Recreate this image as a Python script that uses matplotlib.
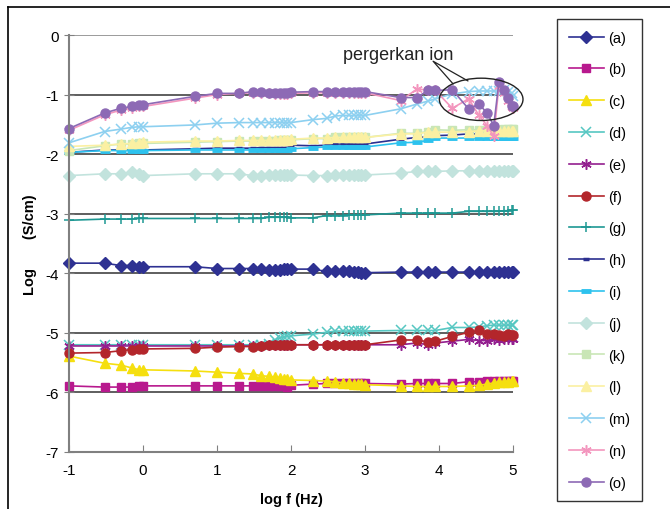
import matplotlib
matplotlib.use("Agg")
import matplotlib.pyplot as plt
from matplotlib.lines import Line2D
from matplotlib.patches import Ellipse

plt.rcParams['font.family'] = ['Liberation Sans', 'DejaVu Sans']
plt.rcParams['axes.unicode_minus'] = False

# log10 of the measuring frequency (Hz)
log_f = [-1.0, -0.52, -0.30, -0.15, -0.05, 0.0, 0.70, 1.0, 1.30, 1.48,
         1.60, 1.70, 1.78, 1.85, 1.90, 1.95, 2.0, 2.30, 2.48, 2.60,
         2.70, 2.78, 2.85, 2.90, 2.95, 3.0, 3.48, 3.70, 3.85, 3.95,
         4.18, 4.40, 4.54, 4.65, 4.74, 4.81, 4.88, 4.93, 4.98, 5.0]

labels = ['(a)', '(b)', '(c)', '(d)', '(e)', '(f)', '(g)', '(h)',
          '(i)', '(j)', '(k)', '(l)', '(m)', '(n)', '(o)']

s_a = [-3.83, -3.83, -3.87, -3.87, -3.89, -3.89, -3.89, -3.92, -3.92, -3.92,
       -3.93, -3.94, -3.94, -3.94, -3.93, -3.93, -3.93, -3.93, -3.97, -3.97,
       -3.97, -3.97, -3.98, -3.98, -3.99, -3.99, -3.98, -3.98, -3.98, -3.98,
       -3.98, -3.98, -3.98, -3.98, -3.98, -3.98, -3.98, -3.98, -3.98, -3.98]
s_b = [-5.89, -5.91, -5.91, -5.91, -5.89, -5.89, -5.89, -5.89, -5.89, -5.89,
       -5.89, -5.89, -5.89, -5.90, -5.90, -5.91, -5.88, -5.86, -5.85, -5.85,
       -5.85, -5.85, -5.85, -5.85, -5.85, -5.85, -5.86, -5.85, -5.85, -5.85,
       -5.85, -5.82, -5.82, -5.80, -5.80, -5.80, -5.80, -5.80, -5.80, -5.80]
s_c = [-5.39, -5.51, -5.54, -5.59, -5.62, -5.62, -5.64, -5.66, -5.68, -5.69,
       -5.72, -5.73, -5.74, -5.75, -5.77, -5.78, -5.79, -5.80, -5.81, -5.82,
       -5.84, -5.85, -5.86, -5.86, -5.86, -5.87, -5.89, -5.90, -5.90, -5.90,
       -5.90, -5.89, -5.88, -5.86, -5.84, -5.83, -5.82, -5.82, -5.81, -5.80]
s_d = [-5.20, -5.20, -5.20, -5.20, -5.20, -5.20, -5.20, -5.20, -5.20, -5.20,
       -5.20, -5.18, -5.12, -5.08, -5.07, -5.06, -5.05, -5.02, -4.99, -4.97,
       -4.97, -4.97, -4.97, -4.97, -4.97, -4.97, -4.96, -4.96, -4.96, -4.96,
       -4.91, -4.91, -4.90, -4.88, -4.87, -4.87, -4.87, -4.87, -4.87, -4.87]
s_e = [-5.22, -5.22, -5.22, -5.22, -5.22, -5.22, -5.22, -5.22, -5.22, -5.22,
       -5.22, -5.21, -5.21, -5.21, -5.21, -5.21, -5.20, -5.20, -5.20, -5.20,
       -5.20, -5.20, -5.20, -5.20, -5.20, -5.20, -5.20, -5.17, -5.20, -5.17,
       -5.14, -5.11, -5.13, -5.13, -5.11, -5.12, -5.11, -5.11, -5.11, -5.10]
s_f = [-5.34, -5.33, -5.30, -5.28, -5.27, -5.27, -5.26, -5.24, -5.23, -5.23,
       -5.22, -5.21, -5.21, -5.21, -5.21, -5.21, -5.20, -5.20, -5.20, -5.20,
       -5.20, -5.20, -5.20, -5.20, -5.20, -5.20, -5.12, -5.12, -5.15, -5.14,
       -5.06, -4.99, -4.96, -5.02, -5.02, -5.04, -5.05, -5.02, -5.03, -5.03]
s_g = [-3.11, -3.09, -3.09, -3.09, -3.08, -3.08, -3.08, -3.08, -3.08, -3.08,
       -3.08, -3.06, -3.06, -3.06, -3.06, -3.06, -3.07, -3.07, -3.03, -3.03,
       -3.03, -3.02, -3.02, -3.02, -3.02, -3.02, -2.99, -2.99, -2.99, -2.99,
       -2.99, -2.96, -2.96, -2.96, -2.96, -2.96, -2.95, -2.95, -2.94, -2.94]
s_h = [-1.97, -1.93, -1.93, -1.93, -1.93, -1.93, -1.91, -1.90, -1.90, -1.90,
       -1.89, -1.89, -1.89, -1.89, -1.89, -1.89, -1.85, -1.86, -1.85, -1.83,
       -1.83, -1.83, -1.83, -1.83, -1.83, -1.83, -1.75, -1.72, -1.71, -1.69,
       -1.68, -1.66, -1.66, -1.66, -1.66, -1.66, -1.66, -1.66, -1.66, -1.66]
s_i = [-1.97, -1.94, -1.94, -1.94, -1.94, -1.94, -1.93, -1.93, -1.93, -1.93,
       -1.93, -1.93, -1.93, -1.93, -1.93, -1.93, -1.91, -1.89, -1.88, -1.88,
       -1.88, -1.88, -1.88, -1.88, -1.88, -1.88, -1.81, -1.80, -1.77, -1.73,
       -1.73, -1.73, -1.73, -1.73, -1.73, -1.73, -1.73, -1.73, -1.73, -1.73]
s_j = [-2.36, -2.33, -2.33, -2.30, -2.33, -2.36, -2.33, -2.33, -2.33, -2.36,
       -2.36, -2.35, -2.35, -2.35, -2.35, -2.35, -2.35, -2.36, -2.36, -2.35,
       -2.35, -2.35, -2.35, -2.35, -2.35, -2.35, -2.32, -2.29, -2.29, -2.29,
       -2.28, -2.28, -2.28, -2.28, -2.28, -2.28, -2.28, -2.28, -2.28, -2.28]
s_k = [-1.94, -1.86, -1.83, -1.83, -1.82, -1.82, -1.80, -1.79, -1.78, -1.78,
       -1.78, -1.78, -1.78, -1.77, -1.77, -1.77, -1.76, -1.74, -1.74, -1.72,
       -1.72, -1.72, -1.72, -1.72, -1.72, -1.72, -1.65, -1.65, -1.62, -1.59,
       -1.60, -1.59, -1.59, -1.59, -1.59, -1.59, -1.58, -1.58, -1.58, -1.58]
s_l = [-1.87, -1.85, -1.83, -1.82, -1.81, -1.80, -1.78, -1.78, -1.77, -1.77,
       -1.77, -1.77, -1.77, -1.77, -1.77, -1.77, -1.75, -1.73, -1.73, -1.72,
       -1.72, -1.72, -1.72, -1.72, -1.72, -1.72, -1.66, -1.66, -1.63, -1.63,
       -1.63, -1.62, -1.61, -1.61, -1.61, -1.61, -1.61, -1.61, -1.61, -1.61]
s_m = [-1.81, -1.62, -1.58, -1.55, -1.54, -1.54, -1.51, -1.48, -1.47, -1.47,
       -1.47, -1.47, -1.47, -1.47, -1.47, -1.47, -1.47, -1.42, -1.40, -1.36,
       -1.35, -1.35, -1.35, -1.35, -1.35, -1.35, -1.24, -1.16, -1.11, -1.07,
       -0.99, -0.95, -0.94, -0.94, -0.94, -0.94, -0.93, -0.95, -0.98, -1.03]
s_n = [-1.60, -1.34, -1.26, -1.23, -1.20, -1.20, -1.06, -1.00, -0.98, -0.97,
       -0.97, -0.98, -0.99, -0.99, -0.99, -0.99, -0.98, -0.97, -0.97, -0.97,
       -0.97, -0.97, -0.97, -0.97, -0.97, -0.97, -1.10, -0.91, -0.92, -0.93,
       -1.23, -1.07, -1.35, -1.52, -1.70, -0.85, -0.97, -1.10, -1.21, -1.23]
s_o = [-1.57, -1.31, -1.23, -1.20, -1.17, -1.17, -1.03, -0.98, -0.98, -0.95,
       -0.95, -0.97, -0.97, -0.97, -0.97, -0.97, -0.96, -0.95, -0.95, -0.95,
       -0.95, -0.95, -0.95, -0.95, -0.95, -0.95, -1.05, -1.05, -0.93, -0.93,
       -0.92, -1.24, -1.16, -1.31, -1.52, -0.79, -0.93, -1.05, -1.20, -1.20]

series = [s_a, s_b, s_c, s_d, s_e, s_f, s_g, s_h, s_i, s_j, s_k, s_l, s_m, s_n, s_o]

asterisk = (6, 2, 0)
styles = [
    dict(color='#2E3192', marker='D', ms=6),
    dict(color='#B8198E', marker='s', ms=6),
    dict(color='#F5DF0F', marker='^', ms=6.5),
    dict(color='#56C7C2', marker='x', ms=6.5, mew=1.1),
    dict(color='#931F8F', marker=asterisk, ms=7.5, mew=1.1),
    dict(color='#B3262B', marker='o', ms=6.5),
    dict(color='#1E9893', marker='+', ms=7.5, mew=1.1),
    dict(color='#2B2F8F', marker='_', ms=4, mew=2.5),
    dict(color='#2DC2EE', marker='_', ms=7, mew=3.5),
    dict(color='#C2E3DD', marker='D', ms=6),
    dict(color='#C9E6B6', marker='s', ms=6),
    dict(color='#FBF0A2', marker='^', ms=6.5),
    dict(color='#8DD0F0', marker='x', ms=6.5, mew=1.1),
    dict(color='#F396BE', marker=asterisk, ms=7.5, mew=1.1),
    dict(color='#8D6AB5', marker='o', ms=6.5),
]

fig = plt.figure(figsize=(6.7, 5.1), dpi=100)
ax = fig.add_axes([69 / 670, 57 / 510, 444 / 670, 417 / 510])

for vals, lab, st in zip(series, labels, styles):
    ax.plot(log_f, vals, label=lab, lw=1.2, clip_on=False, **st)

ax.set_xlim(-1, 5)
ax.set_ylim(-7, 0)
ax.set_xticks(range(-1, 6))
ax.set_yticks(range(-7, 1))

# horizontal grid lines
for yv in range(-6, 0):
    ax.axhline(yv, color='#333333', lw=1.1, zorder=0)
ax.axhline(0, color='#808080', lw=1.1, zorder=0)

for side in ('top', 'right'):
    ax.spines[side].set_visible(False)
for side in ('left', 'bottom'):
    ax.spines[side].set_color('#808080')
    ax.spines[side].set_linewidth(1.5)
ax.tick_params(axis='x', direction='in', length=5, color='#808080', labelsize=11, pad=8)
ax.tick_params(axis='y', direction='inout', length=7, color='#808080', labelsize=11, pad=4)

ax.set_xlabel('log f (Hz)', fontweight='bold', fontsize=10.5, labelpad=11)
ax.set_ylabel('Log       (S/cm)', fontweight='bold', fontsize=10.5, labelpad=6)

# ion movement callout
ax.add_patch(Ellipse((4.57, -1.08), 1.13, 0.71, fill=False, ec='#222222', lw=1.0,
                     clip_on=False, zorder=20))
ax.plot([4.19, 3.92, 4.39], [-0.82, -0.44, -0.77], color='#222222', lw=0.9,
        clip_on=False, zorder=20)
ax.text(2.70, -0.40, 'pergerkan ion', fontsize=13, color='#222222',
        ha='left', va='baseline', zorder=21)

leg = fig.legend(loc='upper left', bbox_to_anchor=(557 / 670, 1 - 20 / 510),
                 frameon=True, fancybox=False, edgecolor='black', fontsize=10.5,
                 handlelength=2.4, handletextpad=0.3, labelspacing=1.22,
                 borderpad=0.8, borderaxespad=0)
leg.get_frame().set_linewidth(1.0)

# outer chart border
fig.add_artist(Line2D([8 / 670, 1.0], [1 - 8 / 510, 1 - 8 / 510], color='black', lw=1.2))
fig.add_artist(Line2D([8 / 670, 8 / 670], [0.0, 1 - 8 / 510], color='black', lw=1.2))

fig.savefig('out.png', dpi=100)
